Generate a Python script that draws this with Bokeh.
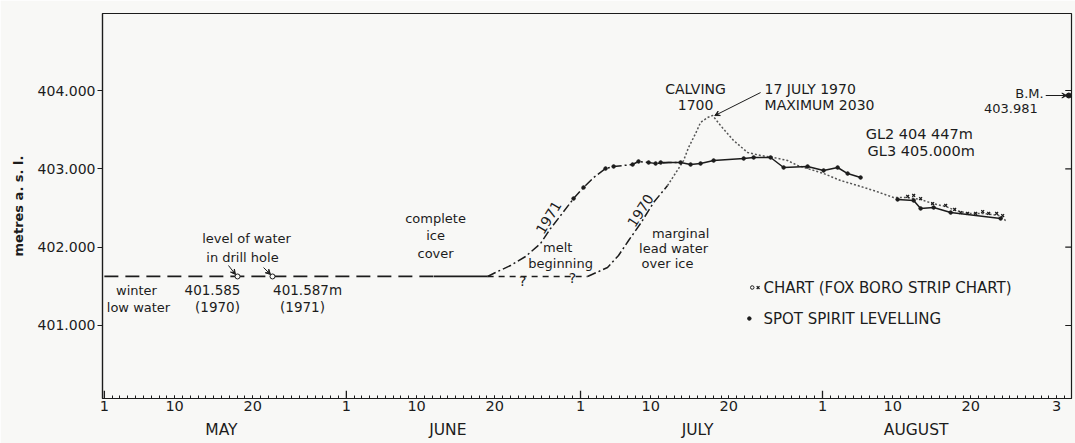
import math
from bokeh.plotting import figure
from bokeh.models import Range1d, FixedTicker, LinearAxis, Label, Arrow, VeeHead
from bokeh.embed import file_html
from bokeh.resources import INLINE

FONT = "DejaVu Sans"
INK = "#1c1c1c"
BG = "#f8f8f6"

# x = day counted from 30 April (1 = 1 May, 32 = 1 June, 62 = 1 July, 93 = 1 August)
month_names = ["MAY", "JUNE", "JULY", "AUGUST"]
month_start_days = [1, 32, 62, 93]
month_label_days = [16, 45, 77, 105]
tick_days = [1, 10, 20, 32, 41, 51, 62, 71, 81, 93, 102, 112, 123]
tick_labels = ["1", "10", "20", "1", "10", "20", "1", "10", "20", "1", "10", "20", "3"]
level_ticks = [401, 402, 403, 404]
level_tick_labels = ["401.000", "402.000", "403.000", "404.000"]

# winter low water (long dashes), complete ice cover (solid), melt beginning (short dashes)
winter_day = [1, 43.2]
winter_level = [401.626, 401.626]
ice_day = [43.2, 50.1]
ice_level = [401.626, 401.626]
melt_day = [50.1, 62.9]
melt_level = [401.626, 401.626]

# 1971 rise
y1971_day = [50.09, 51.11, 53.04, 54.96, 56.88, 58.16, 59.45, 61.11, 62.39, 63.68,
             65.21, 66.24, 68.67, 69.43, 70.72, 71.62, 73.28, 74.82]
y1971_level = [401.626, 401.677, 401.766, 401.881, 402.047, 402.238, 402.404, 402.621,
               402.762, 402.889, 403.004, 403.030, 403.055, 403.094, 403.081, 403.068,
               403.081, 403.081]
y1971_dot_day = [61.11, 62.39, 65.21, 66.24, 68.67, 69.43, 70.72, 71.62]
y1971_dot_level = [402.621, 402.762, 403.004, 403.030, 403.055, 403.094, 403.081, 403.068]

# 1970 rise (spot levelling part)
y1970_day = [62.9, 65.46, 66.87, 68.16, 69.69, 71.36, 73.15]
y1970_level = [401.626, 401.740, 401.894, 402.085, 402.302, 402.570, 402.787]

# Fox Boro strip chart (1970)
chart_day = [73.15, 74.56, 75.20, 75.84, 76.74, 77.38, 78.28, 78.92, 79.94, 81.61, 83.40,
             85.07, 86.73, 88.53, 89.81, 91.09, 93.14, 95.32, 97.50, 99.55, 102.11, 103.65,
             105.57, 107.11, 108.78, 110.06, 111.73, 113.65, 115.57, 116.47]
chart_level = [402.787, 403.004, 403.106, 403.272, 403.451, 403.592, 403.655, 403.681,
               403.553, 403.362, 403.209, 403.170, 403.145, 403.106, 403.043, 403.004,
               402.940, 402.851, 402.787, 402.723, 402.634, 402.634, 402.609, 402.557,
               402.519, 402.468, 402.430, 402.430, 402.404, 402.340]
chart_x_day = [103.91, 104.68, 105.57, 107.11, 108.78, 109.93, 110.70, 111.59, 112.62,
               113.52, 114.29, 115.31, 116.08]
chart_x_level = [402.647, 402.660, 402.621, 402.557, 402.532, 402.481, 402.442, 402.430,
                 402.430, 402.455, 402.430, 402.430, 402.404]

# spot spirit levelling
spot_day = [72.27, 74.82, 76.10, 77.38, 79.05, 82.90, 84.18, 86.35, 88.02, 91.09, 93.14,
            94.94, 96.22, 97.88]
spot_level = [403.081, 403.081, 403.055, 403.068, 403.106, 403.132, 403.145, 403.145,
              403.017, 403.030, 402.979, 403.017, 402.940, 402.889]
spot_late_day = [102.62, 104.68, 105.57, 107.24, 109.42, 115.82]
spot_late_level = [402.609, 402.596, 402.494, 402.506, 402.442, 402.366]

# water level in drill hole, bench mark
drill_day = [18.06, 22.54]
drill_level = [401.626, 401.626]
bm_day = [124.55]
bm_level = [403.936]

X0, X1 = 0.76, 124.9
Y0, Y1 = 400.068, 404.983
p = figure(width=1075, height=443, output_backend="svg", toolbar_location=None,
           x_range=Range1d(X0, X1), y_range=Range1d(Y0, Y1),
           min_border_left=102, min_border_right=4, min_border_top=13, min_border_bottom=45,
           background_fill_color=BG, border_fill_color=BG,
           outline_line_color=INK, outline_line_width=1.2)
p.grid.visible = False

xa = p.xaxis[0]
xa.ticker = FixedTicker(ticks=tick_days, minor_ticks=list(range(1, 125)))
xa.major_label_overrides = {d: t for d, t in zip(tick_days, tick_labels)}
xa.major_tick_in = 3
xa.major_tick_out = 0
xa.minor_tick_in = 3
xa.minor_tick_out = 0
xa.major_tick_line_color = INK
xa.minor_tick_line_color = INK
xa.axis_line_color = INK
xa.axis_line_width = 1.2
xa.major_label_text_font = FONT
xa.major_label_text_font_size = "14.5px"
xa.major_label_text_color = INK
xa.major_label_standoff = 2

# month names: a second, tick-less axis below the day axis
ma = LinearAxis(ticker=FixedTicker(ticks=month_label_days),
                major_label_overrides={d: n for d, n in zip(month_label_days, month_names)},
                major_tick_in=0, major_tick_out=0, minor_tick_in=0, minor_tick_out=0,
                axis_line_color=None, major_label_text_font=FONT,
                major_label_text_font_size="15.5px", major_label_text_color=INK,
                major_label_standoff=7)
p.add_layout(ma, "below")

ya = p.yaxis[0]
ya.ticker = FixedTicker(ticks=level_ticks)
ya.major_label_overrides = {v: t for v, t in zip(level_ticks, level_tick_labels)}
ya.major_tick_in = 0
ya.major_tick_out = 5
ya.major_tick_line_color = INK
ya.axis_line_color = INK
ya.axis_line_width = 1.2
ya.major_label_text_font = FONT
ya.major_label_text_font_size = "14px"
ya.major_label_text_color = INK
ya.major_label_standoff = 2
ya.axis_label = "metres a. s. l."
ya.axis_label_text_font = FONT
ya.axis_label_text_font_size = "13px"
ya.axis_label_text_font_style = "bold"
ya.axis_label_text_color = INK
ya.axis_label_standoff = 9

# inward ticks on the right-hand frame and longer ticks at month starts
p.segment(x0=[X1 - 0.8] * 4, y0=level_ticks, x1=[X1] * 4, y1=level_ticks,
          line_color=INK, line_width=1.2)
p.segment(x0=month_start_days, y0=[Y0] * 4, x1=month_start_days, y1=[Y0 + 0.1] * 4,
          line_color=INK, line_width=1.3)

# curves
p.line(winter_day, winter_level, line_color=INK, line_width=1.7, line_dash="14 7")
p.line(ice_day, ice_level, line_color=INK, line_width=1.7)
p.line(melt_day, melt_level, line_color=INK, line_width=1.4, line_dash="6 5")
p.line(y1971_day, y1971_level, line_color=INK, line_width=1.5, line_dash="9 3 2 3")
p.scatter(y1971_dot_day, y1971_dot_level, size=3.5, color=INK)
p.line(y1970_day, y1970_level, line_color=INK, line_width=1.5, line_dash="9 3 2 3")
p.line(chart_day, chart_level, line_color="#555555", line_width=1.5, line_dash="2 2")
p.scatter(chart_x_day, chart_x_level, marker="x", size=4, line_color=INK, line_width=1.3)
p.line(spot_day, spot_level, line_color=INK, line_width=1.5)
p.scatter(spot_day, spot_level, size=3.5, color=INK)
p.line(spot_late_day, spot_late_level, line_color=INK, line_width=1.5)
p.scatter(spot_late_day, spot_late_level, size=3.5, color=INK)
p.scatter(drill_day, drill_level, size=5, fill_color=BG, line_color=INK, line_width=1)
p.scatter(bm_day, bm_level, size=5, color=INK)


def lab(text, x, y, size=13, align="center", angle=0.0, style="normal"):
    p.add_layout(Label(x=x, y=y, text=text, text_font=FONT, text_font_size=f"{size}px",
                       text_color=INK, text_align=align, text_baseline="middle",
                       angle=angle, angle_units="rad", text_font_style=style))


lab("level of water", 19.21, 402.111)
lab("in drill hole", 18.69, 401.868)
lab("winter", 5.11, 401.447)
lab("low water", 5.37, 401.230)
lab("401.585", 14.85, 401.447, 13.5)
lab("(1970)", 15.49, 401.230, 13.5)
lab("401.587m", 27.03, 401.447, 13.5)
lab("(1971)", 26.38, 401.230, 13.5)
lab("complete", 43.43, 402.366)
lab("ice", 43.43, 402.149)
lab("cover", 43.43, 401.919)
lab("melt", 59.07, 401.996)
lab("beginning", 59.45, 401.791)
lab("marginal", 74.82, 402.174)
lab("lead water", 73.92, 401.983)
lab("over ice", 73.15, 401.791)
lab("?", 54.58, 401.574, 14)
lab("?", 60.98, 401.600, 14)
lab("1971", 57.91, 402.379, 14, angle=math.radians(59))
lab("1970", 69.69, 402.468, 14, angle=math.radians(57))
lab("CALVING", 76.74, 404.025, 14)
lab("1700", 76.74, 403.809, 14)
lab("17 JULY 1970", 85.58, 404.025, 14, "left")
lab("MAXIMUM 2030", 85.58, 403.809, 14, "left")
lab("GL2 404 447m", 98.53, 403.451, 14.5, "left")
lab("GL3 405.000m", 98.78, 403.234, 14.5, "left")
lab("B.M.", 121.34, 403.962, 13, "right")
lab("403.981", 120.57, 403.770, 13, "right")
lab("CHART (FOX BORO STRIP CHART)", 85.43, 401.485, 15, "left")
lab("SPOT SPIRIT LEVELLING", 85.43, 401.089, 15, "left")

# legend symbols
p.scatter([84.0], [401.485], size=3.5, fill_color=BG, line_color=INK)
p.scatter([84.75], [401.485], marker="x", size=4, line_color=INK, line_width=1.3)
p.scatter([83.63], [401.089], size=3.5, color=INK)

# leader arrows
for (xs, ys, xe, ye) in [(16.90, 401.766, 17.80, 401.651), (21.39, 401.740, 22.29, 401.651),
                         (85.07, 403.974, 79.2, 403.68), (121.6, 403.936, 124.3, 403.936)]:
    p.add_layout(Arrow(x_start=xs, y_start=ys, x_end=xe, y_end=ye, line_color=INK, line_width=1,
                       end=VeeHead(size=5, line_color=INK, fill_color=INK, line_width=1)))

open("out.html", "w").write(file_html(p, INLINE))
